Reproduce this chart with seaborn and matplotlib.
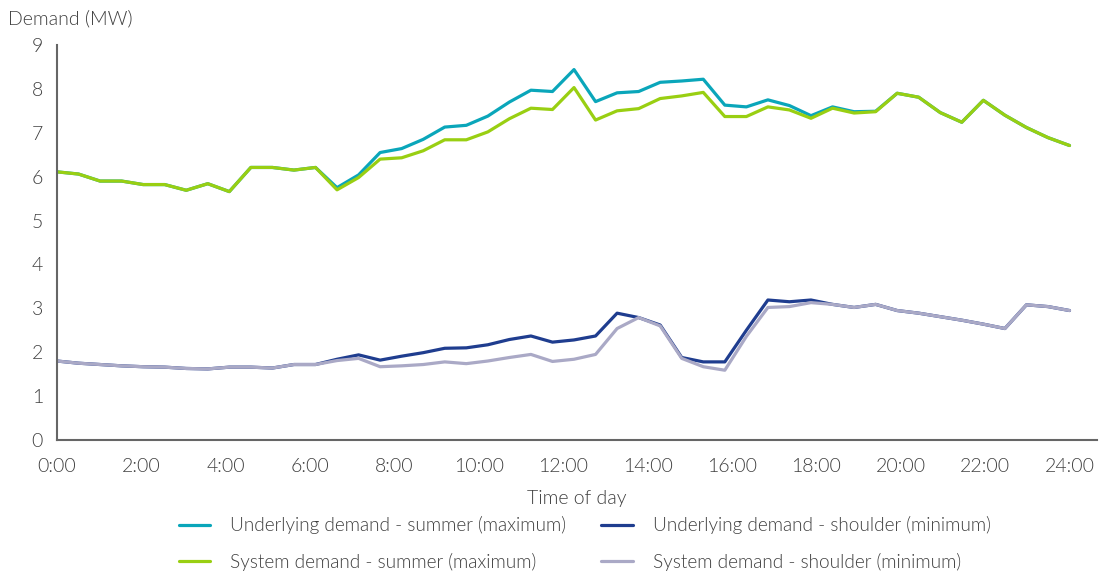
import numpy as np
import pandas as pd
import matplotlib.pyplot as plt
import seaborn as sns

# 48 half-hourly readings, stretched across 0:00-24:00 as in the source chart
periods = np.arange(48)

underlying_summer = [6.11, 6.06, 5.90, 5.90, 5.82, 5.82, 5.69, 5.84, 5.66, 6.21,
                     6.21, 6.15, 6.21, 5.75, 6.04, 6.55, 6.64, 6.85, 7.13, 7.17,
                     7.38, 7.70, 7.97, 7.94, 8.44, 7.71, 7.91, 7.94, 8.15, 8.18,
                     8.22, 7.63, 7.59, 7.75, 7.62, 7.39, 7.59, 7.48, 7.49, 7.90,
                     7.81, 7.46, 7.24, 7.74, 7.40, 7.12, 6.89, 6.71]
system_summer = [6.11, 6.06, 5.90, 5.90, 5.82, 5.82, 5.69, 5.84, 5.66, 6.21,
                 6.21, 6.15, 6.21, 5.70, 5.98, 6.40, 6.43, 6.59, 6.84, 6.84,
                 7.02, 7.32, 7.56, 7.53, 8.03, 7.29, 7.50, 7.55, 7.78, 7.84,
                 7.92, 7.37, 7.37, 7.59, 7.52, 7.33, 7.56, 7.45, 7.48, 7.90,
                 7.81, 7.46, 7.24, 7.74, 7.40, 7.12, 6.89, 6.71]
underlying_shoulder = [1.80, 1.75, 1.72, 1.69, 1.67, 1.66, 1.63, 1.62, 1.66, 1.66,
                       1.64, 1.72, 1.72, 1.84, 1.94, 1.82, 1.91, 1.99, 2.09, 2.10,
                       2.17, 2.29, 2.37, 2.23, 2.28, 2.37, 2.89, 2.79, 2.62, 1.88,
                       1.78, 1.78, 2.50, 3.19, 3.15, 3.19, 3.09, 3.02, 3.09, 2.95,
                       2.89, 2.81, 2.73, 2.64, 2.54, 3.08, 3.04, 2.95]
system_shoulder = [1.80, 1.75, 1.72, 1.69, 1.67, 1.66, 1.63, 1.62, 1.66, 1.66,
                   1.64, 1.72, 1.72, 1.81, 1.86, 1.67, 1.69, 1.72, 1.78, 1.74,
                   1.80, 1.88, 1.95, 1.79, 1.84, 1.95, 2.54, 2.79, 2.60, 1.86,
                   1.67, 1.59, 2.36, 3.02, 3.04, 3.13, 3.09, 3.02, 3.09, 2.95,
                   2.89, 2.81, 2.73, 2.64, 2.54, 3.08, 3.04, 2.95]

tick_hours = list(range(0, 25, 2))
tick_labels = [f"{h}:00" for h in tick_hours]

names = ["Underlying demand - summer (maximum)",
         "Underlying demand - shoulder (minimum)",
         "System demand - summer (maximum)",
         "System demand - shoulder (minimum)"]
colors = ["#0aa6ba", "#1f3d8f", "#99cf12", "#aaa9c6"]

df = pd.DataFrame({
    "hour": np.tile(periods * 24 / 47, 4),
    "MW": underlying_summer + underlying_shoulder + system_summer + system_shoulder,
    "series": np.repeat(names, 48),
})

sns.set_style("white")
plt.rcParams["font.family"] = ["Lato", "DejaVu Sans"]
txt = "#404040"
fw = 300
fs = 14

fig = plt.figure(figsize=(11.04, 5.71), dpi=100)
ax = fig.add_axes([0.0516, 0.2294, 0.942, 0.6918])

sns.lineplot(data=df, x="hour", y="MW", hue="series", hue_order=names,
             palette=dict(zip(names, colors)), linewidth=2.3, ax=ax, legend=False)

ax.set_xlim(0, 24.65)
ax.set_ylim(0, 9)
ax.set_xticks(tick_hours)
ax.set_xticklabels(tick_labels)
ax.set_yticks(range(0, 10))
ax.tick_params(axis="both", length=0, labelsize=fs, labelcolor=txt)
ax.tick_params(axis="x", pad=13)
ax.tick_params(axis="y", pad=10)
for lab in ax.get_xticklabels() + ax.get_yticklabels():
    lab.set_fontweight(fw)
ax.set_xlabel("Time of day", fontsize=fs, color=txt, fontweight=fw, labelpad=11)
ax.set_ylabel("")
sns.despine(ax=ax)
for s in ["left", "bottom"]:
    ax.spines[s].set_color("#666666")
    ax.spines[s].set_linewidth(1.5)

fig.text(0.007, 0.968, "Demand (MW)", fontsize=fs, color=txt,
         fontweight=fw, va="center", ha="left")

handles = [plt.Line2D([], [], color=c, lw=2.3) for c in colors]
order = [0, 2, 1, 3]
fig.legend([handles[i] for i in order], [names[i] for i in order], ncol=2,
           loc="upper left", bbox_to_anchor=(0.155, 0.109), frameon=False,
           labelcolor=txt, handlelength=1.65, handletextpad=1.05,
           columnspacing=1.85, labelspacing=0.97, borderaxespad=0,
           prop={"weight": fw, "size": 13.7})

fig.savefig("out.png", dpi=100)
